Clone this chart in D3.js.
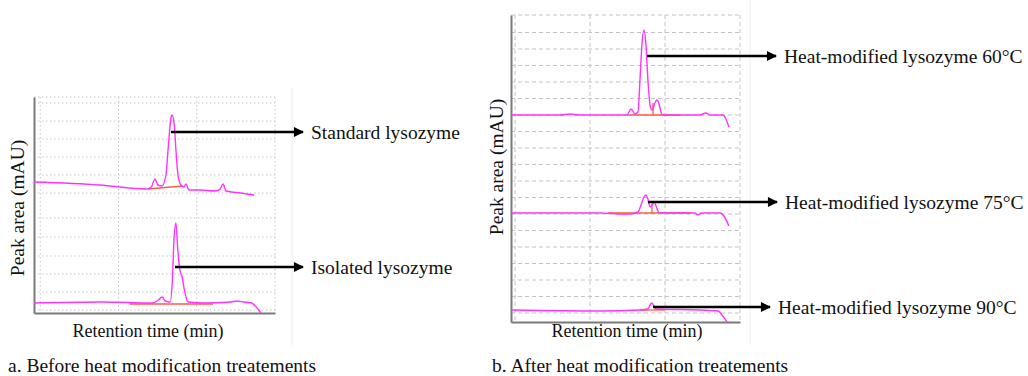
<!DOCTYPE html>
<html>
<head>
<meta charset="utf-8">
<script src="https://cdn.jsdelivr.net/npm/d3@7"></script>
<style>
  body { margin: 0; background: #fff; }
  svg { display: block; font-family: "Liberation Serif", "Times New Roman", serif; }
</style>
</head>
<body>
<svg id="vis" width="1028" height="376"></svg>
<script>
// retention time gridlines (min)
const timeTicks = [0, 5, 10, 15]

// signal gridlines for each panel
const gridA = [216, 210, 192, 174, 156, 138, 120, 95, 76, 57, 39, 21, 3]
const gridB = [307, 289.5, 273, 256.5, 240, 223.5, 207, 190.5, 174, 157.5, 141, 124.5, 108, 91.5, 75, 58.5, 42, 25.5, 9]

// panel a traces [time, signal]
const standardLyso = [[-0.4,131],[3.8,128],[6.8,124],[7.1,126],[7.33,134],[7.52,128],[7.78,127],[8.03,138],[8.2,170],[8.35,195],[8.42,198],[8.55,190],[8.67,163],[8.8,138],[8.99,128],[9.18,126],[9.31,129],[9.5,123],[10.2,123],[11.2,122],[11.5,124],[11.68,129],[11.87,122],[12.8,120],[13.66,118]]
const isolatedLyso = [[-0.4,10],[4,11],[7.2,10],[7.55,13],[7.78,16],[8.0,12],[8.3,11],[8.45,35],[8.55,75],[8.67,90],[8.78,65],[8.9,45],[9.06,36],[9.25,20],[9.44,11],[10.5,10],[12.2,11],[12.57,12],[13.0,11],[13.5,10],[13.8,6],[14.1,0]]
const standardBase = [[6.88,124],[9.12,127]]
const isolatedBase = [[5.73,9],[11.04,9]]

// panel b traces [time, signal]
const heat60 = [[-0.27,207],[3.0,207],[3.66,208],[4.3,207],[7.46,207],[7.73,213],[8.0,208],[8.2,210],[8.33,242],[8.46,277],[8.6,292],[8.73,277],[8.86,242],[9.0,217],[9.13,212],[9.33,219],[9.46,222],[9.6,218],[9.73,210],[9.86,207],[12.33,207],[12.73,209],[13.0,207],[13.86,207],[14.06,203],[14.26,195]]
const heat75 = [[-0.27,109],[5.66,109],[7.3,108],[7.66,108],[8.2,110],[8.4,117],[8.6,125],[8.73,127],[8.86,123],[9.0,115],[9.13,117],[9.26,120],[9.4,116],[9.53,111],[9.66,109],[12.0,109],[12.2,107],[12.4,109],[13.66,109],[13.93,106],[14.26,96]]
const heat90 = [[-0.27,12],[5.66,11],[8.33,12],[8.86,13],[9.0,17],[9.13,19],[9.26,16],[9.4,13],[12.33,12],[13.53,11],[13.8,7],[14.13,0]]
const heat60Base = [[7.46,207],[10.99,207]]
const heat75Base = [[6.2,109],[11.67,109]]
const heat90Base = [[8.33,12],[10.0,12]]
const heat60Drop = [[9.2,207],[9.2,219]]
const heat75Drop = [[9.13,109],[9.13,118]]

// labels
const labelsA = ["Standard lysozyme", "Isolated lysozyme"]
const labelsB = ["Heat-modified lysozyme 60°C", "Heat-modified lysozyme 75°C", "Heat-modified lysozyme 90°C"]
const captions = ["a. Before heat modification treatements", "b. After heat modification treatements"]
const xTitle = "Retention time (min)"
const yTitle = "Peak area (mAU)"

const vis = d3.select("#vis")

const defs = vis.append("defs")
defs.append("marker")
  .attr("id", "arrow")
  .attr("viewBox", "0 0 10 10")
  .attr("refX", 9).attr("refY", 5)
  .attr("markerWidth", 5).attr("markerHeight", 4.2)
  .attr("markerUnits", "strokeWidth")
  .attr("orient", "auto")
  .append("path").attr("d", "M0,0L10,5L0,10z").attr("fill", "#000")

function panel(cfg) {
  const g = vis.append("g")
  const x = d3.scaleLinear().domain(cfg.xDomain).range([cfg.left, cfg.right])
  const y = d3.scaleLinear().domain(cfg.yDomain).range([cfg.bottom, cfg.top])

  // faint screenshot frame
  g.append("line").attr("x1", cfg.frame[2]).attr("x2", cfg.frame[2])
    .attr("y1", cfg.frame[1]).attr("y2", cfg.frame[3])
    .attr("stroke", "#ececec").attr("stroke-width", 1)

  // gridlines
  g.append("g").selectAll("line").data(cfg.grid).enter().append("line")
    .attr("x1", cfg.left).attr("x2", cfg.right)
    .attr("y1", d => y(d)).attr("y2", d => y(d))
    .attr("stroke", "#c4c4c4").attr("stroke-width", 1)
    .attr("stroke-dasharray", cfg.dash)
  g.append("g").selectAll("line").data(timeTicks).enter().append("line")
    .attr("x1", d => x(d)).attr("x2", d => x(d))
    .attr("y1", cfg.top).attr("y2", cfg.bottom)
    .attr("stroke", "#c4c4c4").attr("stroke-width", 1)
    .attr("stroke-dasharray", cfg.dash)

  // axes
  const yAxis = d3.axisLeft(y).tickValues([]).tickSizeOuter(0)
  const xAxis = d3.axisBottom(x).tickValues([]).tickSizeOuter(0)
  g.append("g").attr("transform", `translate(${cfg.left},0)`).call(yAxis)
    .select(".domain").attr("stroke", "#7a7a7a").attr("stroke-width", 2)
  g.append("g").attr("transform", `translate(0,${cfg.bottom})`).call(xAxis)
    .select(".domain").attr("stroke", "#7a7a7a").attr("stroke-width", 2)

  const line = d3.line().x(d => x(d[0])).y(d => y(d[1])).curve(d3.curveMonotoneX)
  const straight = d3.line().x(d => x(d[0])).y(d => y(d[1]))

  cfg.bases.forEach(b => {
    g.append("path").attr("d", straight(b)).attr("fill", "none")
      .attr("stroke", "#ff5a45").attr("stroke-width", 1.3)
  })
  cfg.traces.forEach(t => {
    g.append("path").attr("d", line(t)).attr("fill", "none")
      .attr("stroke", "#ff33ff").attr("stroke-width", 1.4)
  })

  // arrows + labels
  cfg.notes.forEach(n => {
    const y0 = y(n.at[1])
    g.append("line").attr("x1", x(n.at[0])).attr("x2", n.tip)
      .attr("y1", y0).attr("y2", y0)
      .attr("stroke", "#000").attr("stroke-width", 2.4)
      .attr("marker-end", "url(#arrow)")
    g.append("text").attr("x", n.tip + 8).attr("y", y0 + 7)
      .attr("font-size", 19.5).attr("fill", "#111").text(n.label)
  })

  // axis titles
  g.append("text").attr("x", cfg.xTitle[0]).attr("y", cfg.xTitle[1])
    .attr("text-anchor", "middle").attr("font-size", 18).attr("fill", "#111").text(xTitle)
  g.append("text").attr("transform", `translate(${cfg.yTitle[0]},${cfg.yTitle[1]}) rotate(-90)`)
    .attr("text-anchor", "middle").attr("font-size", 19.5).attr("fill", "#111").text(yTitle)

  g.append("text").attr("x", cfg.caption[0]).attr("y", cfg.caption[1])
    .attr("font-size", 19.5).attr("fill", "#111").text(cfg.captionText)
}

panel({
  xDomain: [-0.4, 15], yDomain: [0, 216],
  left: 34, right: 275, top: 97, bottom: 313,
  frame: [0, 88, 292, 345],
  grid: gridA, dash: "1.5,2.5",
  traces: [standardLyso, isolatedLyso],
  bases: [standardBase, isolatedBase],
  notes: [
    { at: [8.35, 181], tip: 303, label: labelsA[0] },
    { at: [8.61, 46], tip: 303, label: labelsA[1] }
  ],
  xTitle: [148, 337], yTitle: [24, 208],
  caption: [8, 372], captionText: captions[0]
})

panel({
  xDomain: [-0.27, 15], yDomain: [0, 307],
  left: 511, right: 740, top: 15, bottom: 322,
  frame: [483, 0, 750, 345],
  grid: gridB, dash: "4,3",
  traces: [heat60, heat75, heat90],
  bases: [heat60Base, heat75Base, heat90Base, heat60Drop, heat75Drop],
  notes: [
    { at: [8.8, 266], tip: 776, label: labelsB[0] },
    { at: [8.86, 120], tip: 777, label: labelsB[1] },
    { at: [9.2, 15], tip: 770, label: labelsB[2] }
  ],
  xTitle: [627, 337], yTitle: [503, 167],
  caption: [492, 372], captionText: captions[1]
})
</script>
</body>
</html>
